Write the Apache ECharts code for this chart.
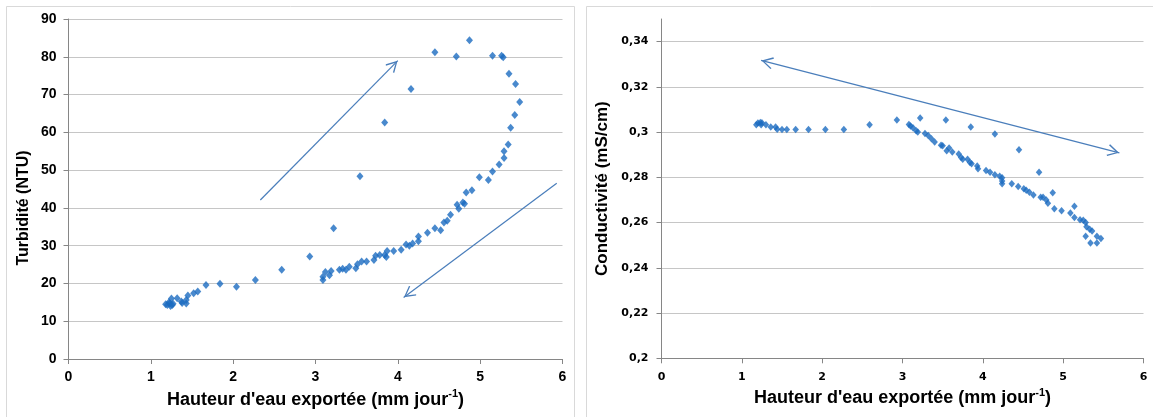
<!DOCTYPE html>
<html>
<head>
<meta charset="utf-8">
<script src="https://cdn.jsdelivr.net/npm/echarts@6/dist/echarts.min.js"></script>
<style>
html,body{margin:0;padding:0;background:#fff;}
#c{width:1153px;height:417px;}
</style>
</head>
<body>
<div id="c"></div>
<script>
// Turbidity chart (left)
const turbX = [1.18,1.20,1.22,1.23,1.24,1.25,1.26,1.27,1.32,1.37,1.38,1.43,1.43,1.45,1.52,1.57,1.67,1.84,2.04,2.27,2.59,2.93,
  3.09,3.09,3.12,3.17,3.19,3.22,3.29,3.33,3.37,3.41,3.49,3.51,3.54,3.56,3.62,3.71,3.73,3.78,3.84,3.84,3.86,3.87,3.95,4.04,
  4.10,4.14,4.16,4.18,4.25,4.25,4.36,4.45,4.45,4.52,4.56,4.60,4.64,4.71,4.72,4.74,4.79,4.81,4.83,4.87,4.90,4.99,5.10,5.15,
  5.15,5.23,5.26,5.28,5.29,5.29,5.34,5.35,5.37,5.42,5.43,5.48];
const turbY = [14.5,14.3,15.0,14.7,14.0,16.0,14.3,14.6,16.1,15.2,14.8,14.7,15.6,16.8,17.4,17.9,19.6,19.9,19.1,20.9,23.6,27.1,
  20.9,21.8,23.0,22.2,23.3,34.6,23.6,23.9,23.6,24.4,24.0,25.1,48.4,25.8,25.8,26.2,27.3,27.5,62.6,27.5,27.0,28.6,28.6,28.9,
  30.3,30.0,71.5,30.6,32.4,31.2,33.4,34.6,81.2,34.1,36.1,36.6,38.2,80.1,40.8,39.8,41.4,41.1,44.1,84.4,44.7,48.1,47.4,49.6,
  80.3,51.5,80.3,79.9,53.2,55.0,56.8,75.5,61.2,64.6,72.8,68.0];

// Conductivity chart (right)
const condX = [1.18,1.20,1.23,1.25,1.24,1.30,1.36,1.42,1.44,1.50,1.56,1.67,1.83,2.04,2.27,2.59,2.93,3.08,3.10,3.13,3.17,3.19,
  3.22,3.28,3.32,3.36,3.40,3.48,3.50,3.54,3.55,3.58,3.62,3.70,3.73,3.75,3.81,3.84,3.85,3.86,3.93,3.94,4.04,4.09,4.15,4.15,
  4.21,4.24,4.24,4.24,4.36,4.44,4.45,4.51,4.54,4.58,4.63,4.70,4.72,4.75,4.79,4.81,4.87,4.89,4.98,5.09,5.14,5.14,5.21,5.25,
  5.28,5.29,5.33,5.36,5.28,5.34,5.42,5.42,5.47];
const condY = [0.3033,0.3040,0.3042,0.3041,0.3032,0.3032,0.3022,0.3023,0.3013,0.3012,0.3012,0.3012,0.3012,0.3012,0.3012,0.3032,
  0.3053,0.3034,0.3027,0.3019,0.3006,0.3000,0.3062,0.2994,0.2985,0.2971,0.2956,0.2942,0.2940,0.3053,0.2918,0.2930,0.2912,
  0.2903,0.2888,0.2880,0.2880,0.2866,0.3022,0.2860,0.2850,0.2838,0.2830,0.2822,0.2992,0.2812,0.2805,0.2798,0.2784,0.2772,
  0.2772,0.2760,0.2922,0.2750,0.2743,0.2734,0.2722,0.2822,0.2712,0.2712,0.2700,0.2686,0.2732,0.2661,0.2652,0.2642,0.2672,
  0.2622,0.2612,0.2610,0.2600,0.2582,0.2570,0.2563,0.2540,0.2510,0.2540,0.2510,0.2530];

// Tick values of the conductivity axis (no tick at the 0.35 top)
const condTicks = [0.2,0.22,0.24,0.26,0.28,0.30,0.32,0.34];

// Annotation arrows (data coordinates)
const turbArrowUp = [[2.33,42.1],[4.00,79.0]];
const turbArrowDown = [[5.93,46.5],[4.07,16.3]];
const condArrow = [[1.24,0.3317],[5.70,0.2908]];

const MARK = '#1c6cc0';
const ARROW = '#4a7ebb';
const AXIS = '#868686';
const GRID = '#c6c6c6';
const HEAD = 'path://M5,0L5.01,0L5,0.01Z M5,10L10,18.6L9.1,19.3L5,12.1L0.9,19.3L0,18.6Z';

const zip = (a,b) => a.map((v,i)=>[v,b[i]]);
const titleRich = (size) => ({
  t:{fontFamily:'Liberation Sans',fontWeight:'bold',fontSize:size,color:'#000',lineHeight:size+4},
  s:{fontFamily:'Liberation Sans',fontWeight:'bold',fontSize:Math.round(size*0.6),color:'#000',verticalAlign:'top',lineHeight:size+4}
});

const chart = echarts.init(document.getElementById('c'), null, {renderer:'canvas'});
chart.setOption({
  animation:false,
  backgroundColor:'#fff',
  graphic:[
    {type:'rect', shape:{x:6.5,y:6.5,width:568,height:420}, style:{fill:'none',stroke:'#d9d9d9',lineWidth:1}, silent:true},
    {type:'rect', shape:{x:586.5,y:6.5,width:580,height:420}, style:{fill:'none',stroke:'#d9d9d9',lineWidth:1}, silent:true}
  ],
  grid:[
    {left:68.5, top:19, width:494, height:340, containLabel:false},
    {left:661.5, top:19, width:482, height:339.3, containLabel:false}
  ],
  xAxis:[
    {gridIndex:0, type:'value', min:0, max:6, interval:1,
     name:'{t|Hauteur d\'eau exportée (mm jour}{s|-1}{t|)}', nameLocation:'middle', nameGap:29,
     nameTextStyle:{rich:titleRich(18)},
     axisLine:{show:true, onZero:false, lineStyle:{color:AXIS,width:1}},
     axisTick:{show:true, length:5, lineStyle:{color:AXIS}},
     axisLabel:{margin:11, color:'#000', fontFamily:'Liberation Sans', fontWeight:'bold', fontSize:14},
     splitLine:{show:false}},
    {gridIndex:1, type:'value', min:0, max:6, interval:1,
     name:'{t|Hauteur d\'eau exportée (mm jour}{s|-1}{t|)}', nameLocation:'middle', nameGap:29,
     nameTextStyle:{rich:titleRich(18)},
     axisLine:{show:true, onZero:false, lineStyle:{color:AXIS,width:1}},
     axisTick:{show:true, length:5, lineStyle:{color:AXIS}},
     axisLabel:{margin:13, color:'#000', fontFamily:'DejaVu Sans', fontWeight:'bold', fontSize:11},
     splitLine:{show:false}}
  ],
  yAxis:[
    {gridIndex:0, type:'value', min:0, max:90, interval:10,
     name:'Turbidité (NTU)', nameLocation:'middle', nameGap:37, nameRotate:90,
     nameTextStyle:{fontFamily:'Liberation Sans', fontWeight:'bold', fontSize:16, color:'#000', padding:[0,38,0,0]},
     axisLine:{show:true, onZero:false, lineStyle:{color:AXIS,width:1}},
     axisTick:{show:true, length:5, lineStyle:{color:AXIS}},
     axisLabel:{margin:12, color:'#000', fontFamily:'Liberation Sans', fontWeight:'bold', fontSize:14},
     splitLine:{show:true, showMinLine:false, lineStyle:{color:GRID,width:1}}},
    {gridIndex:1, type:'value', min:0.2, max:0.35, interval:0.02,
     name:'Conductivité (mS/cm)', nameLocation:'middle', nameGap:51, nameRotate:90,
     nameTextStyle:{fontFamily:'Liberation Sans', fontWeight:'bold', fontSize:17, color:'#000'},
     axisLine:{show:true, onZero:false, lineStyle:{color:AXIS,width:1}},
     axisTick:{show:true, length:5, lineStyle:{color:AXIS}, customValues:condTicks},
     axisLabel:{margin:13, color:'#000', fontFamily:'DejaVu Sans', fontWeight:'bold', fontSize:11,
       showMaxLabel:false,
       formatter:(v)=>String(Math.round(v*100)/100).replace('.',',')},
     splitLine:{show:true, showMinLine:false, showMaxLine:true, lineStyle:{color:GRID,width:1}}}
  ],
  series:[
    {type:'scatter', xAxisIndex:0, yAxisIndex:0, data:zip(turbX,turbY),
     symbol:'diamond', symbolSize:[7,8], itemStyle:{color:MARK}, silent:true,
     markLine:{silent:true, animation:false, symbol:['none',HEAD], symbolSize:[12,24],
       label:{show:false}, emphasis:{disabled:true},
       lineStyle:{color:ARROW, width:1.2, type:'solid'},
       data:[
         [{coord:turbArrowUp[0]},{coord:turbArrowUp[1]}],
         [{coord:turbArrowDown[0]},{coord:turbArrowDown[1]}]
       ]}},
    {type:'scatter', xAxisIndex:1, yAxisIndex:1, data:zip(condX,condY),
     symbol:'diamond', symbolSize:[6.5,7.5], itemStyle:{color:MARK}, silent:true,
     markLine:{silent:true, animation:false, symbol:[HEAD,HEAD], symbolSize:[12,24],
       label:{show:false}, emphasis:{disabled:true},
       lineStyle:{color:ARROW, width:1.2, type:'solid'},
       data:[
         [{coord:condArrow[0]},{coord:condArrow[1]}]
       ]}}
  ]
});
</script>
</body>
</html>
